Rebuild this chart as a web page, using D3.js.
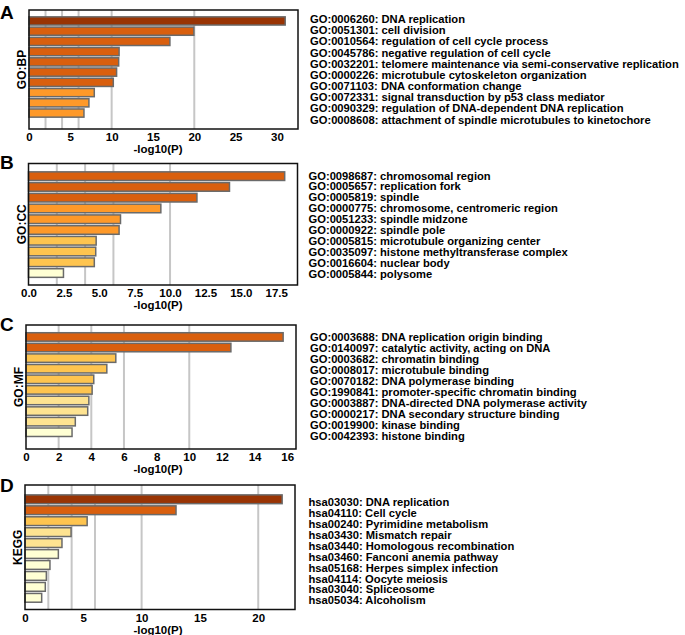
<!DOCTYPE html>
<html>
<head>
<meta charset="utf-8">
<script src="https://cdn.jsdelivr.net/npm/d3@7"></script>
<style>
  body { margin: 0; background: #fff; }
  svg { display: block; font-family: "Liberation Sans", Arial, sans-serif; font-weight: bold; }
</style>
</head>
<body>
<svg id="chart" width="685" height="635"></svg>
<script>
// GO:BP
const bpTerms = [
    "GO:0006260: DNA replication",
    "GO:0051301: cell division",
    "GO:0010564: regulation of cell cycle process",
    "GO:0045786: negative regulation of cell cycle",
    "GO:0032201: telomere maintenance via semi-conservative replication",
    "GO:0000226: microtubule cytoskeleton organization",
    "GO:0071103: DNA conformation change",
    "GO:0072331: signal transduction by p53 class mediator",
    "GO:0090329: regulation of DNA-dependent DNA replication",
    "GO:0008608: attachment of spindle microtubules to kinetochore"
];
const bpValues = [31.0, 19.95, 17.05, 10.9, 10.85, 10.6, 10.2, 7.9, 7.25, 6.65];
const bpTicks = [0, 5, 10, 15, 20, 25, 30];

// GO:CC
const ccTerms = [
    "GO:0098687: chromosomal region",
    "GO:0005657: replication fork",
    "GO:0005819: spindle",
    "GO:0000775: chromosome, centromeric region",
    "GO:0051233: spindle midzone",
    "GO:0000922: spindle pole",
    "GO:0005815: microtubule organizing center",
    "GO:0035097: histone methyltransferase complex",
    "GO:0016604: nuclear body",
    "GO:0005844: polysome"
];
const ccValues = [18.1, 14.2, 11.9, 9.35, 6.5, 6.4, 4.78, 4.75, 4.65, 2.47];
const ccTicks = [0, 2.5, 5, 7.5, 10, 12.5, 15, 17.5];

// GO:MF
const mfTerms = [
    "GO:0003688: DNA replication origin binding",
    "GO:0140097: catalytic activity, acting on DNA",
    "GO:0003682: chromatin binding",
    "GO:0008017: microtubule binding",
    "GO:0070182: DNA polymerase binding",
    "GO:1990841: promoter-specific chromatin binding",
    "GO:0003887: DNA-directed DNA polymerase activity",
    "GO:0000217: DNA secondary structure binding",
    "GO:0019900: kinase binding",
    "GO:0042393: histone binding"
];
const mfValues = [15.75, 12.55, 5.5, 4.95, 4.15, 4.05, 3.85, 3.78, 3.02, 2.82];
const mfTicks = [0, 2, 4, 6, 8, 10, 12, 14, 16];

// KEGG
const keggTerms = [
    "hsa03030: DNA replication",
    "hsa04110: Cell cycle",
    "hsa00240: Pyrimidine metabolism",
    "hsa03430: Mismatch repair",
    "hsa03440: Homologous recombination",
    "hsa03460: Fanconi anemia pathway",
    "hsa05168: Herpes simplex infection",
    "hsa04114: Oocyte meiosis",
    "hsa03040: Spliceosome",
    "hsa05034: Alcoholism"
];
const keggValues = [22.05, 12.95, 5.33, 3.95, 3.17, 2.86, 2.14, 1.83, 1.74, 1.43];
const keggTicks = [0, 5, 10, 15, 20];

const gridValues = [2, 4, 6, 10, 20];

// colour by -log10(P) bin
const color = d3.scaleThreshold()
    .domain([3, 4, 6, 10, 20])
    .range(["#ffffd4", "#fee391", "#fec44f", "#fe9929", "#d95f0e", "#993404"]);

const panels = [
    { letter: "A", letterY: 18.5, yLabel: "GO:BP", terms: bpTerms, values: bpValues, ticks: bpTicks, fmt: d3.format("d"),
      box: { l: 29, t: 10, r: 298, b: 129 }, pad: [4.8, 9.8], labelX: 310, labelY: [19, 119.5] },
    { letter: "B", letterY: 168.5, yLabel: "GO:CC", terms: ccTerms, values: ccValues, ticks: ccTicks, fmt: d3.format(".1f"),
      box: { l: 28.5, t: 163.5, r: 297.5, b: 285 }, pad: [6.2, 5.5], labelX: 308.5, labelY: [175.5, 274] },
    { letter: "C", letterY: 330.5, yLabel: "GO:MF", terms: mfTerms, values: mfValues, ticks: mfTicks, fmt: d3.format("d"),
      box: { l: 26, t: 325, r: 296, b: 449 }, pad: [5.6, 10.4], labelX: 310, labelY: [336.5, 435.5] },
    { letter: "D", letterY: 491.5, yLabel: "KEGG", terms: keggTerms, values: keggValues, ticks: keggTicks, fmt: d3.format("d"),
      box: { l: 25, t: 485, r: 295, b: 609.5 }, pad: [7.7, 5.1], labelX: 308.5, labelY: [502.3, 600.3] }
];

const svg = d3.select("#chart");

panels.forEach(p => {
    const { l, t, r, b } = p.box;
    const data = p.terms.map((term, i) => ({ term, value: p.values[i] }));
    const g = svg.append("g");

    const x = d3.scaleLinear().domain([0, d3.max(p.values) * 1.05]).range([l, r]);
    const y = d3.scaleBand().domain(p.terms).range([t + p.pad[0], b - p.pad[1]]).padding(0.2);
    const yl = d3.scalePoint().domain(p.terms).range(p.labelY);

    // grid
    g.selectAll(".grid").data(gridValues.filter(v => v < x.domain()[1]))
      .enter().append("line")
        .attr("x1", d => x(d)).attr("x2", d => x(d))
        .attr("y1", t).attr("y2", b)
        .attr("stroke", "#c6c6c6").attr("stroke-width", 2);

    // bars
    g.selectAll(".bar").data(data)
      .enter().append("rect")
        .attr("x", x(0))
        .attr("y", d => y(d.term))
        .attr("width", d => x(d.value) - x(0))
        .attr("height", y.bandwidth())
        .attr("fill", d => color(d.value))
        .attr("stroke", "#6a6a6a").attr("stroke-width", 1.5);

    // frame
    g.append("rect")
        .attr("x", l).attr("y", t).attr("width", r - l).attr("height", b - t)
        .attr("fill", "none").attr("stroke", "#111").attr("stroke-width", 1.5);

    // x axis
    g.append("g").attr("transform", `translate(0,${b})`)
        .call(d3.axisBottom(x).tickValues(p.ticks).tickFormat(p.fmt).tickSize(0).tickPadding(4))
        .call(a => a.select(".domain").remove())
        .call(a => a.selectAll("text").attr("fill", "#000").attr("font-size", 11.5)
            .attr("font-family", "Liberation Sans, Arial, sans-serif").attr("font-weight", "bold"));

    g.append("text")
        .attr("x", 158).attr("y", b + 24)
        .attr("text-anchor", "middle").attr("font-size", 11.5)
        .text("-log10(P)");

    // y label
    g.append("text")
        .attr("transform", `translate(${l - 3},${(t + b) / 2}) rotate(-90)`)
        .attr("text-anchor", "middle").attr("font-size", 12)
        .text(p.yLabel);

    // panel letter
    g.append("text")
        .attr("x", 0).attr("y", p.letterY)
        .attr("font-size", 19)
        .text(p.letter);

    // term labels
    g.selectAll(".term").data(p.terms)
      .enter().append("text")
        .attr("x", p.labelX).attr("y", d => yl(d))
        .attr("dy", "0.36em").attr("font-size", 11.2)
        .text(d => d);
});
</script>
</body>
</html>
